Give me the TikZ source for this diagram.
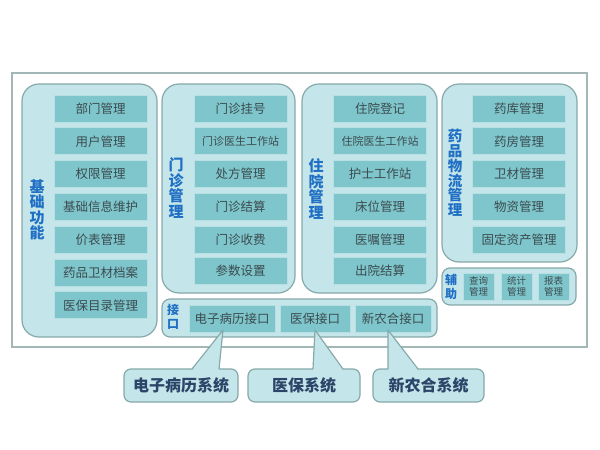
\documentclass[tikz,border=0pt]{standalone}
\usepackage{fontspec}
\setmainfont{Noto Sans CJK SC}
\usepackage{xcolor}
\usetikzlibrary{positioning,calc}
\definecolor{framecol}{HTML}{A3B7B7}
\definecolor{panelfill}{HTML}{C4E5E9}
\definecolor{panelline}{HTML}{86A9AA}
\definecolor{boxfill}{HTML}{7EC6CB}
\definecolor{boxtext}{HTML}{3B4B50}
\definecolor{labelblue}{HTML}{1F6FC4}
\definecolor{calltext}{HTML}{2B4468}

\tikzset{
  panel/.style={draw=panelline, fill=panelfill, line width=1.2pt, rounded corners=17pt},
  flatpanel/.style={draw=panelline, fill=panelfill, line width=1.2pt, rounded corners=8pt},
  item/.style={draw=boxfill!55!white, fill=boxfill, line width=0.8pt, minimum width=93pt, minimum height=27pt, text=boxtext, font=\fontsize{12.5}{14}\selectfont},
  itemsm/.style={item, font=\fontsize{11}{13}\selectfont},
  auxitem/.style={item, minimum width=31pt, align=center, font=\fontsize{9.5}{11}\selectfont},
  vlabel/.style={text=labelblue, align=center, font=\bfseries\fontsize{15}{15.5}\selectfont},
  sublabel/.style={text=labelblue, align=center, font=\bfseries\fontsize{12}{14}\selectfont},
  callout/.style={draw=panelline, fill=panelfill, line width=1.2pt, rounded corners=7pt, minimum height=33pt, text=calltext, font=\bfseries\fontsize{16}{18}\selectfont}
}

\begin{document}
\begin{tikzpicture}[x=1pt,y=-1pt,every node/.style={outer sep=0pt, inner sep=0pt}]
\useasboundingbox (0,0) rectangle (600,450);

% outer frame
\node[draw=framecol, fill=white, line width=1.5pt, minimum width=575pt, minimum height=274pt] (frame) at (299.5,210) {};

% panels
\node[panel, minimum width=135pt, minimum height=253pt] (pjc) at (89.5,210.5) {};
\node[panel, minimum width=133pt, minimum height=209pt] (pmz) at (228.5,188.5) {};
\node[panel, minimum width=135pt, minimum height=209pt] (pzy) at (369.5,188.5) {};
\node[panel, minimum width=135pt, minimum height=178pt] (pyp) at (509.5,173) {};
\node[flatpanel, minimum width=275pt, minimum height=38pt] (pjk) at (299.5,318) {};
\node[flatpanel, minimum width=134pt, minimum height=37pt] (pfz) at (509,286.5) {};

% panel labels
\node[vlabel] (ljc) at (37,210) {基\\础\\功\\能};
\node[vlabel] (lmz) at (176,188) {门\\诊\\管\\理};
\node[vlabel] (lzy) at (316,189) {住\\院\\管\\理};
\node[vlabel, font=\bfseries\fontsize{14.5}{14.8}\selectfont] (lyp) at (455,173) {药\\品\\物\\流\\管\\理};
\node[sublabel] (ljk) at (173,317) {接\\口};
\node[sublabel] (lfz) at (451,287) {辅\\助};

% basic functions
\node[item] (jc1) at (100.5,108.5) {部门管理};
\node[item] (jc2) at (100.5,141.3) {用户管理};
\node[item] (jc3) at (100.5,174.1) {权限管理};
\node[item] (jc4) at (100.5,206.9) {基础信息维护};
\node[item] (jc5) at (100.5,239.7) {价表管理};
\node[item] (jc6) at (100.5,272.5) {药品卫材档案};
\node[item] (jc7) at (100.5,305.3) {医保目录管理};

% outpatient
\node[item] (mz1) at (240.5,108.5) {门诊挂号};
\node[itemsm] (mz2) at (240.5,141.3) {门诊医生工作站};
\node[item] (mz3) at (240.5,174.1) {处方管理};
\node[item] (mz4) at (240.5,206.9) {门诊结算};
\node[item] (mz5) at (240.5,239.7) {门诊收费};
\node[item] (mz6) at (240.5,271) {参数设置};

% inpatient
\node[item] (zy1) at (380,108.5) {住院登记};
\node[itemsm] (zy2) at (380,141.3) {住院医生工作站};
\node[item] (zy3) at (380,174.1) {护士工作站};
\node[item] (zy4) at (380,206.9) {床位管理};
\node[item] (zy5) at (380,239.7) {医嘱管理};
\node[item] (zy6) at (380,271) {出院结算};

% drug logistics
\node[item] (yp1) at (519,108.5) {药库管理};
\node[item] (yp2) at (519,141.3) {药房管理};
\node[item] (yp3) at (519,174.1) {卫材管理};
\node[item] (yp4) at (519,206.9) {物资管理};
\node[item] (yp5) at (519,239.7) {固定资产管理};

% interfaces
\node[item, minimum width=86pt] (jk1) at (232,318.5) {电子病历接口};
\node[item, minimum width=70pt] (jk2) at (315,318.5) {医保接口};
\node[item, minimum width=76pt] (jk3) at (393,318.5) {新农合接口};

% auxiliary
\node[auxitem] (fz1) at (478.5,286.5) {查询\\管理};
\node[auxitem] (fz2) at (516.5,286.5) {统计\\管理};
\node[auxitem] (fz3) at (553.5,286.5) {报表\\管理};

% external systems
\node[callout, minimum width=114pt] (xt1) at (181,385.5) {电子病历系统};
\node[callout, minimum width=112pt] (xt2) at (304,385.5) {医保系统};
\node[callout, minimum width=111pt] (xt3) at (428.5,385.5) {新农合系统};

\coordinate (tip1) at ([xshift=-9pt,yshift=2pt]jk1.south);
\coordinate (tip2) at ([yshift=2pt]jk2.south);
\coordinate (tip3) at ([xshift=-5pt,yshift=2pt]jk3.south);

\fill[panelfill] ($(xt1.north west)+(68,1.5)$) -- (tip1) -- ($(xt1.north west)+(95,1.5)$) -- cycle;
\draw[panelline, line width=1.2pt, line join=round] ($(xt1.north west)+(68,0)$) -- (tip1) -- ($(xt1.north west)+(95,0)$);
\fill[panelfill] ($(xt2.north west)+(65,1.5)$) -- (tip2) -- ($(xt2.north west)+(95,1.5)$) -- cycle;
\draw[panelline, line width=1.2pt, line join=round] ($(xt2.north west)+(65,0)$) -- (tip2) -- ($(xt2.north west)+(95,0)$);
\fill[panelfill] ($(xt3.north west)+(15,1.5)$) -- (tip3) -- ($(xt3.north west)+(45,1.5)$) -- cycle;
\draw[panelline, line width=1.2pt, line join=round] ($(xt3.north west)+(15,0)$) -- (tip3) -- ($(xt3.north west)+(45,0)$);
\end{tikzpicture}
\end{document}
